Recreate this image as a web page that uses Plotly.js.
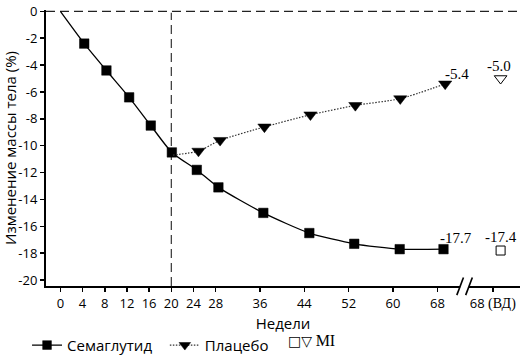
<!DOCTYPE html>
<html>
<head>
<meta charset="utf-8">
<script src="https://cdn.plot.ly/plotly-3.0.1.min.js"></script>
<style>html,body{margin:0;padding:0;background:#fff;}#chart{width:520px;height:362px;}</style>
</head>
<body>
<div id="chart"></div>
<script>
// ---- data ----
const semaWeeks = [0, 4.3, 8.3, 12.4, 16.3, 20.1, 24.6, 28.5, 36.6, 44.9, 53.0, 61.2, 69.1];
const semaValues = [0, -2.4, -4.4, -6.4, -8.5, -10.5, -11.8, -13.1, -15.0, -16.5, -17.3, -17.7, -17.7];
const placeboWeeks = [20.3, 24.9, 28.8, 36.8, 45.1, 53.2, 61.3, 69.4];
const placeboValues = [-10.7, -10.4, -9.6, -8.6, -7.7, -7.0, -6.5, -5.4];
const miWeek = 79.4;
const miSemaValue = -17.8;
const miPlaceboValue = -5.0;
const endLabels = ['-17.7', '-5.4'];
const miLabels = ['-17.4', '-5.0'];
const xTickVals = [0, 4, 8, 12, 16, 20, 24, 28, 36, 44, 52, 60, 68, 78];
const xTickText = ['0', '4', '8', '12', '16', '20', '24', '28', '36', '44', '52', '60', '68',
  '68 <span style="font-family:\'Liberation Serif\';font-size:14px">(ВД)</span>'];
const yTickVals = [0, -2, -4, -6, -8, -10, -12, -14, -16, -18, -20];
const yTickText = yTickVals.map(v => String(v));
const seriesNames = ['Семаглутид\u00a0\u00a0', 'Плацебо'];
const miLegendText = '<span style="font-family:\'DejaVu Sans\';font-size:14px">□▽</span> <span style="font-family:\'Liberation Serif\';font-size:16px">MI</span>';

const sans = 'Open Sans, Noto Sans, sans-serif';
const serif = 'Liberation Serif, Times New Roman, serif';

const traces = [
  {
    x: semaWeeks, y: semaValues, name: seriesNames[0], type: 'scatter', mode: 'lines+markers',
    line: {color: '#000', width: 1.3, shape: 'spline', smoothing: 0.6},
    marker: {symbol: 'square', color: '#000', opacity: 1, size: semaWeeks.map((w, i) => i === 0 ? 0 : 9.5),
      line: {color: '#000', width: 0.5}},
    legendrank: 1, cliponaxis: false
  },
  {
    x: placeboWeeks, y: placeboValues, name: seriesNames[1], type: 'scatter', mode: 'lines+markers',
    line: {color: '#333', width: 1.2, dash: '1.5px,1.5px', shape: 'spline', smoothing: 0.6},
    marker: {symbol: 'triangle-down', color: '#000', opacity: 1, size: placeboWeeks.map((w, i) => i === 0 ? 0 : 11.5),
      line: {color: '#000', width: 0.5}},
    legendrank: 2, cliponaxis: false
  },
  {
    x: [miWeek], y: [miSemaValue], name: 'MI', type: 'scatter', mode: 'markers', showlegend: false,
    marker: {symbol: 'square-open', color: '#000', size: 9, line: {width: 1}},
    cliponaxis: false
  },
  {
    x: [miWeek], y: [miPlaceboValue], name: 'MI', type: 'scatter', mode: 'markers', showlegend: false,
    marker: {symbol: 'triangle-down-open', color: '#000', size: 11, line: {width: 1}},
    cliponaxis: false
  }
];

const lastS = semaWeeks.length - 1, lastP = placeboWeeks.length - 1;
const annotations = [
  {x: semaWeeks[lastS], y: semaValues[lastS], text: endLabels[0], xshift: 13, yshift: 11},
  {x: placeboWeeks[lastP], y: placeboValues[lastP], text: endLabels[1], xshift: 12, yshift: 10},
  {x: miWeek, y: miSemaValue, text: miLabels[0], xshift: 0, yshift: 14},
  {x: miWeek, y: miPlaceboValue, text: miLabels[1], xshift: -2, yshift: 13}
].map(a => Object.assign(a, {xref: 'x', yref: 'y', showarrow: false, xanchor: 'center', yanchor: 'middle',
  font: {family: serif, size: 15, color: '#000'}}));
annotations.push({xref: 'paper', yref: 'paper', x: 0.506, y: -0.198, xanchor: 'left', yanchor: 'middle',
  showarrow: false, text: miLegendText, font: {family: sans, size: 14, color: '#000'}});

const breakLo = 72.1, breakHi = 73.7;
const shapes = [
  {type: 'line', xref: 'x', yref: 'y', x0: -2.6, x1: 83, y0: 0, y1: 0, line: {color: '#222', width: 1.1, dash: '9px,5px'}, layer: 'below'},
  {type: 'line', xref: 'x', yref: 'paper', x0: 20, x1: 20, y0: 0, y1: 0.99, line: {color: '#222', width: 1.1, dash: '9px,5px'}, layer: 'below'},
  {type: 'rect', xref: 'x', yref: 'paper', x0: breakLo, x1: breakHi, y0: -0.012, y1: 0.012, fillcolor: '#fff', line: {width: 0}, layer: 'above'},
  {type: 'line', xref: 'x', yref: 'paper', x0: breakLo - 0.6, x1: breakLo + 0.6, y0: -0.033, y1: 0.031, line: {color: '#000', width: 1.6}, layer: 'above'},
  {type: 'line', xref: 'x', yref: 'paper', x0: breakHi - 0.6, x1: breakHi + 0.6, y0: -0.033, y1: 0.031, line: {color: '#000', width: 1.6}, layer: 'above'}
];

const layout = {
  width: 520, height: 362,
  margin: {l: 46, r: 0, t: 10, b: 69, pad: 0},
  paper_bgcolor: '#fff', plot_bgcolor: '#fff',
  font: {family: sans, size: 13, color: '#000'},
  showlegend: true,
  legend: {orientation: 'h', x: -0.04, xanchor: 'left', y: -0.155, yanchor: 'top',
    font: {family: sans, size: 15, color: '#000'}, traceorder: 'normal', itemwidth: 30, bgcolor: 'rgba(0,0,0,0)'},
  xaxis: {
    range: [-2.6, 82.9], tickmode: 'array', tickvals: xTickVals, ticktext: xTickText,
    showgrid: false, zeroline: false, showline: true, linecolor: '#000', linewidth: 2,
    ticks: 'outside', ticklen: 4, tickwidth: 1.5, tickcolor: '#000', ticklabeloverflow: 'allow',
    tickfont: {family: sans, size: 13}, fixedrange: true,
    title: {text: 'Недели', font: {family: sans, size: 15}, standoff: 8}
  },
  yaxis: {
    range: [-20.44, 0.1], tickmode: 'array', tickvals: yTickVals, ticktext: yTickText,
    showgrid: false, zeroline: false, showline: true, linecolor: '#000', linewidth: 2,
    ticks: 'outside', ticklen: 4, tickwidth: 1.5, tickcolor: '#000', ticklabeloverflow: 'allow',
    tickfont: {family: sans, size: 13}, fixedrange: true,
    title: {text: 'Изменение массы тела (%)', font: {family: sans, size: 15}, standoff: 6}
  },
  annotations: annotations,
  shapes: shapes
};

Plotly.newPlot('chart', traces, layout, {displayModeBar: false, staticPlot: true});
</script>
</body>
</html>
